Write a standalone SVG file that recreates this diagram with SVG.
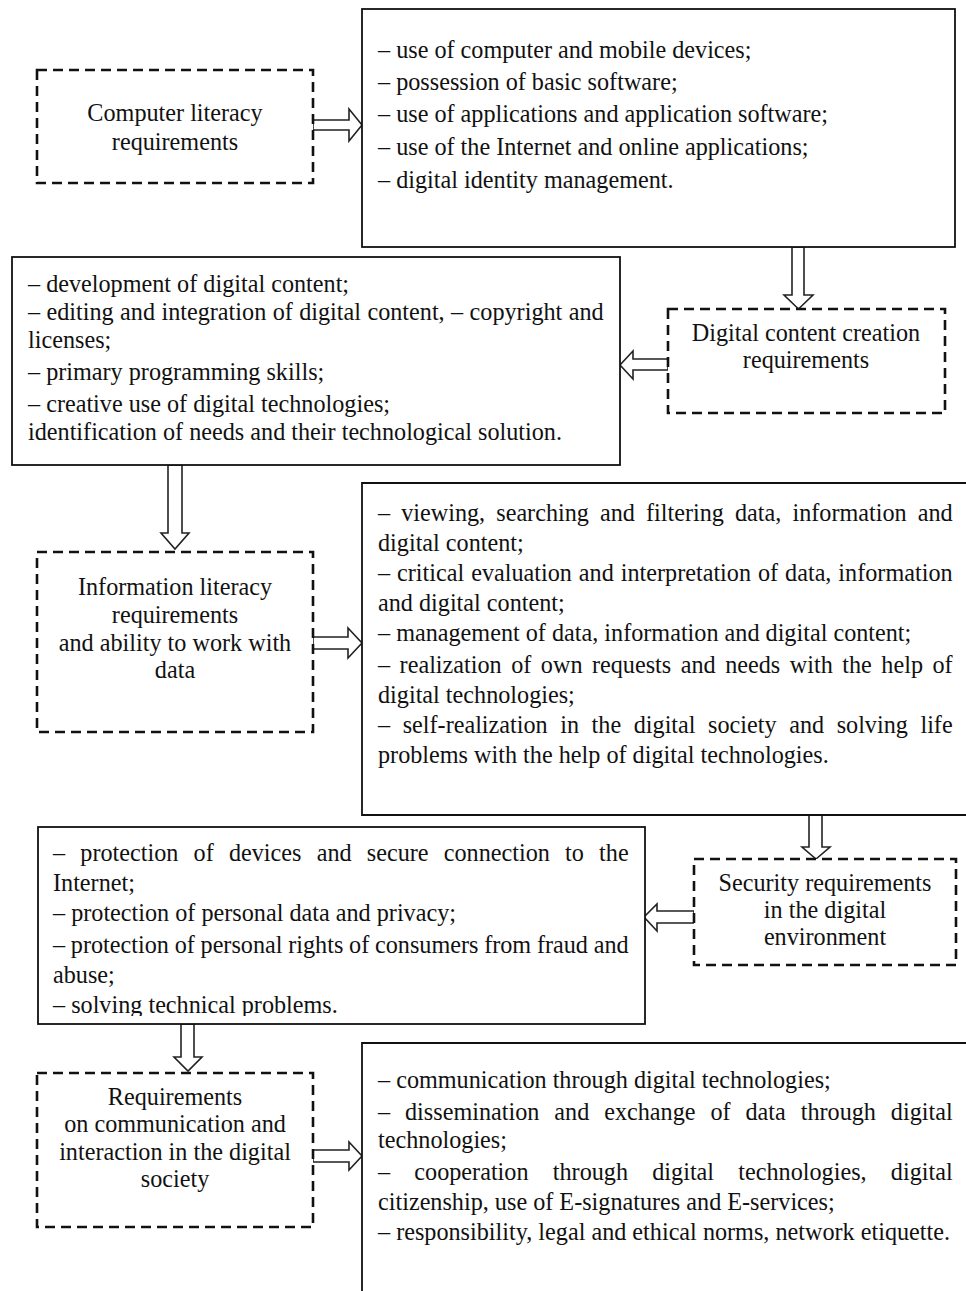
<svg xmlns="http://www.w3.org/2000/svg" width="966" height="1291" viewBox="0 0 966 1291">
<style>
.bg{fill:#fff}
.solid{fill:#fff;stroke:#111;stroke-width:1.8}
.dash{fill:#fff;stroke:#111;stroke-width:2.6;stroke-dasharray:10 6}
.arr{fill:#fff;stroke:#222;stroke-width:1.6;stroke-linejoin:miter}
text{font-family:"Liberation Serif","Times New Roman",serif;font-size:24.2px;fill:#111}
.c{text-anchor:middle}
</style>
<defs>
<clipPath id="clipH"><rect x="38" y="827" width="607" height="189"/></clipPath>
</defs>
<rect class="bg" x="0" y="0" width="966" height="1291"/>

<g id="connectors">
<path class="arr" d="M313,120 H349 V109 L362,125 L349,141 V130 H313 Z"/>
<path class="arr" d="M792,247 V295 H784 L798.5,309 L813,295 H804 V247 Z"/>
<path class="arr" d="M668,359 H633 V351 L620,365 L633,379 V370 H668 Z"/>
<path class="arr" d="M168,465 V533 H161 L175,549 L189,533 H182 V465 Z"/>
<path class="arr" d="M313,637 H348 V628 L362,643 L348,658 V649 H313 Z"/>
<path class="arr" d="M809,815 V847 H802 L816,859 L830,847 H822 V815 Z"/>
<path class="arr" d="M694,911 H657 V904 L644,917 L657,931 V923 H694 Z"/>
<path class="arr" d="M181,1024 V1057 H174 L188,1071 L202,1057 H194 V1024 Z"/>
<path class="arr" d="M313,1150 H349 V1142 L362,1156 L349,1170 V1162 H313 Z"/>
</g>

<g id="node-computer-literacy">
<rect class="dash" x="37" y="70" width="276" height="113"/>
<text class="c" x="175" y="121">Computer literacy</text>
<text class="c" x="175" y="150">requirements</text>
</g>

<g id="node-computer-literacy-list">
<rect class="solid" x="362" y="9" width="593" height="238"/>
<text x="378" y="58">– use of computer and mobile devices;</text>
<text x="378" y="90">– possession of basic software;</text>
<text x="378" y="122">– use of applications and application software;</text>
<text x="378" y="155">– use of the Internet and online applications;</text>
<text x="378" y="188">– digital identity management.</text>
</g>

<g id="node-content-creation">
<rect class="dash" x="668" y="309" width="277" height="104"/>
<text class="c" x="806" y="341">Digital content creation</text>
<text class="c" x="806" y="368">requirements</text>
</g>

<g id="node-content-creation-list">
<rect class="solid" x="12" y="257" width="608" height="208"/>
<text x="28" y="292">– development of digital content;</text>
<text x="28" y="320" word-spacing="0.37">– editing and integration of digital content, – copyright and</text>
<text x="28" y="348">licenses;</text>
<text x="28" y="380">– primary programming skills;</text>
<text x="28" y="412">– creative use of digital technologies;</text>
<text x="28" y="440">identification of needs and their technological solution.</text>
</g>

<g id="node-information-literacy">
<rect class="dash" x="37" y="552" width="276" height="180"/>
<text class="c" x="175" y="595">Information literacy</text>
<text class="c" x="175" y="623">requirements</text>
<text class="c" x="175" y="651">and ability to work with</text>
<text class="c" x="175" y="678">data</text>
</g>

<g id="node-information-literacy-list">
<path class="solid" d="M970,483 H362 V815 H970"/>
<text x="378" y="521" word-spacing="5.04">– viewing, searching and filtering data, information and</text>
<text x="378" y="551">digital content;</text>
<text x="378" y="581" word-spacing="0.91">– critical evaluation and interpretation of data, information</text>
<text x="378" y="611">and digital content;</text>
<text x="378" y="641">– management of data, information and digital content;</text>
<text x="378" y="673" word-spacing="3.46">– realization of own requests and needs with the help of</text>
<text x="378" y="703">digital technologies;</text>
<text x="378" y="733" word-spacing="6.51">– self-realization in the digital society and solving life</text>
<text x="378" y="763">problems with the help of digital technologies.</text>
</g>

<g id="node-security">
<rect class="dash" x="694" y="859" width="262" height="106"/>
<text class="c" x="825" y="891">Security requirements</text>
<text class="c" x="825" y="918">in the digital</text>
<text class="c" x="825" y="945">environment</text>
</g>

<g id="node-security-list">
<rect class="solid" x="38" y="827" width="607" height="197"/>
<g clip-path="url(#clipH)">
<text x="53" y="861" word-spacing="9.16">– protection of devices and secure connection to the</text>
<text x="53" y="891">Internet;</text>
<text x="53" y="921">– protection of personal data and privacy;</text>
<text x="53" y="953" word-spacing="-0.3">– protection of personal rights of consumers from fraud and</text>
<text x="53" y="983">abuse;</text>
<text x="53" y="1013">– solving technical problems.</text>
</g>
</g>

<g id="node-communication">
<rect class="dash" x="37" y="1073" width="276" height="154"/>
<text class="c" x="175" y="1105">Requirements</text>
<text class="c" x="175" y="1132">on communication and</text>
<text class="c" x="175" y="1160">interaction in the digital</text>
<text class="c" x="175" y="1187">society</text>
</g>

<g id="node-communication-list">
<path class="solid" d="M970,1043 H362 V1295"/>
<text x="378" y="1088">– communication through digital technologies;</text>
<text x="378" y="1120" word-spacing="8.88">– dissemination and exchange of data through digital</text>
<text x="378" y="1148">technologies;</text>
<text x="378" y="1180" word-spacing="18.2">– cooperation through digital technologies, digital</text>
<text x="378" y="1210">citizenship, use of E-signatures and E-services;</text>
<text x="378" y="1240">– responsibility, legal and ethical norms, network etiquette.</text>
</g>
</svg>
